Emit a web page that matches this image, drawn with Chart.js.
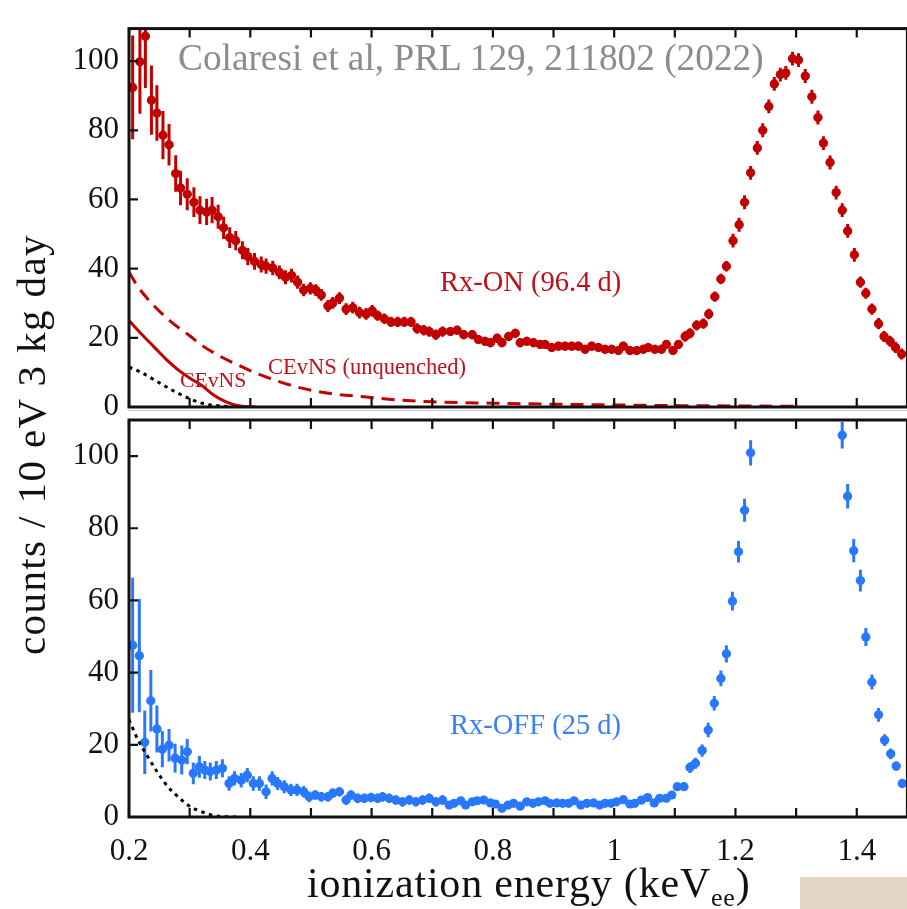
<!DOCTYPE html>
<html>
<head>
<meta charset="utf-8">
<script src="https://cdn.jsdelivr.net/npm/chart.js@4.4.1/dist/chart.umd.min.js"></script>
<style>
  html, body { margin: 0; padding: 0; background: #fff; overflow: hidden; }
  #wrap { position: relative; width: 907px; height: 909px; overflow: hidden; }
  canvas { position: absolute; left: 0; top: 0; }
  .txt { position: absolute; white-space: nowrap; line-height: 1; font-family: 'Liberation Serif', 'Times New Roman', serif; }
  .txt sub { font-size: 26px; vertical-align: -9px; line-height: 0; }
</style>
</head>
<body>
<div id="wrap">
  <canvas id="onChart" width="912" height="909"></canvas>
  <canvas id="offChart" width="912" height="909"></canvas>
  <div style="position:absolute;left:128px;top:410px;width:790px;height:1px;background:#c8c8c8"></div>
  <div class="txt" style="left:178px;top:39px;font-size:37.3px;color:#8c8c8c">Colaresi et al, PRL 129, 211802 (2022)</div>
  <div class="txt" style="left:440px;top:268px;font-size:28.5px;color:#c0101a">Rx-ON (96.4 d)</div>
  <div class="txt" style="left:268px;top:356px;font-size:22.5px;color:#c0101a">CEvNS (unquenched)</div>
  <div class="txt" style="left:180px;top:370px;font-size:21.7px;color:#c0101a">CEvNS</div>
  <div class="txt" style="left:450px;top:711px;font-size:28.5px;color:#3a7fff">Rx-OFF (25 d)</div>
  <div class="txt" style="left:11px;top:655px;font-size:41px;letter-spacing:1.4px;color:#111;transform:rotate(-90deg);transform-origin:0 0">counts / 10 eV 3 kg day</div>
  <div class="txt" style="left:307px;top:862px;font-size:42px;letter-spacing:0.8px;color:#111">ionization energy (keV<sub>ee</sub>)</div>
  <div style="position:absolute;left:800px;top:877px;width:107px;height:32px;background:#e3d5c7"></div>
</div>
<script>
// ---- axes ----
const X_MIN = 0.2;
const X_MAX = 1.4835;
const X_TICKS = [0.2, 0.3, 0.4, 0.5, 0.6, 0.7, 0.8, 0.9, 1.0, 1.1, 1.2, 1.3, 1.4];
const Y_TICKS = [0, 20, 40, 60, 80, 100];
const Y_MAX_ON = 109.4;
const Y_MAX_OFF = 110;
const X_HALF_BIN = 0.007;

// ---- reactor ON spectrum (keV, counts / 10 eV 3 kg day) ----
const RXON_E = [0.206, 0.218, 0.227, 0.237, 0.246, 0.256, 0.266, 0.277, 0.285, 0.296, 0.307, 0.317, 0.328, 0.337, 0.347, 0.356, 0.366, 0.376, 0.387, 0.396,
  0.407, 0.418, 0.426, 0.437, 0.448, 0.458, 0.468, 0.478, 0.488, 0.499, 0.508, 0.517, 0.528, 0.536, 0.547, 0.558, 0.569, 0.580, 0.591, 0.601,
  0.610, 0.621, 0.632, 0.643, 0.654, 0.665, 0.675, 0.686, 0.695, 0.706, 0.717,
  0.730, 0.741, 0.752, 0.766, 0.776, 0.787, 0.796, 0.807, 0.815, 0.826, 0.837, 0.845, 0.856, 0.867, 0.878, 0.886, 0.897, 0.908, 0.919, 0.930,
  0.941, 0.952, 0.963, 0.974, 0.985, 0.996, 1.007, 1.015, 1.026, 1.037, 1.048, 1.056, 1.067, 1.078, 1.086, 1.097, 1.106, 1.117, 1.125, 1.136,
  1.147, 1.156, 1.166, 1.176, 1.185, 1.196, 1.206, 1.215, 1.225, 1.236, 1.245, 1.255, 1.264, 1.274, 1.283, 1.294, 1.304, 1.315, 1.326, 1.336,
  1.345, 1.356, 1.366, 1.376, 1.385, 1.396, 1.406, 1.415, 1.425, 1.436, 1.445, 1.455, 1.464, 1.474];
const RXON_RATE = [92.4, 99.8, 107.2, 88.7, 85.0, 78.6, 75.8, 67.5, 63.3, 61.5, 59.2, 56.9, 56.4, 56.9, 55.0, 51.8, 49.0, 48.1, 45.3, 43.5,
  42.1, 41.2, 40.7, 40.2, 38.9, 37.5, 38.0, 36.1, 33.8, 34.3, 33.8, 32.4, 29.2, 30.1, 31.5, 28.3, 28.7, 27.3, 26.9, 27.8,
  26.4, 25.5, 24.6, 24.6, 24.6, 24.6, 22.7, 22.2, 21.8, 20.9, 21.8,
  21.8, 22.2, 20.9, 20.9, 19.5, 19.0, 18.6, 19.9, 18.6, 20.4, 21.3, 18.6, 19.0, 18.6, 18.1, 18.1, 17.2, 17.6, 17.6, 17.6,
  17.6, 16.7, 17.6, 17.2, 16.7, 16.7, 16.3, 17.6, 16.3, 16.3, 16.7, 17.2, 16.7, 16.7, 18.1, 16.3, 18.1, 20.4, 21.3, 23.6,
  24.1, 26.9, 31.9, 37.0, 40.7, 48.1, 52.7, 59.2, 67.7, 74.9, 80.0, 86.9, 93.4, 96.1, 96.6, 100.7, 100.3, 95.7, 89.7, 83.7,
  76.3, 70.7, 62.0, 56.9, 50.9, 44.0, 36.1, 32.9, 28.3, 24.1, 20.4, 19.0, 17.2, 15.3];
const RXON_ERR = [15, 15, 15, 10, 8, 7, 6, 5.3, 5, 4.6, 4.3, 4, 3.8, 3.8, 3.5, 3.2, 3, 2.8, 2.6, 2.5,
  2.4, 2.3, 2.2, 2.1, 2, 2, 2, 1.9, 1.8, 1.8, 1.7, 1.7, 1.7, 1.7, 1.7, 1.7, 1.7, 1.7, 1.7, 1.7,
  1.5, 1.5, 1.5, 1.5, 1.5, 1.5, 1.5, 1.5, 1.5, 1.5, 1.5,
  1.3, 1.3, 1.3, 1.3, 1.3, 1.3, 1.3, 1.3, 1.3, 1.3, 1.3, 1.3, 1.3, 1.3, 1.3, 1.3, 1.3, 1.3, 1.3, 1.3,
  1.3, 1.3, 1.3, 1.3, 1.3, 1.3, 1.3, 1.3, 1.3, 1.3, 1.3, 1.3, 1.3, 1.3, 1.3, 1.3, 1.3, 1.5, 1.5, 1.5,
  1.5, 1.5, 1.5, 1.5, 1.5, 2, 2, 2, 2, 2, 2, 2, 2, 2, 2, 2, 2, 2, 2, 2,
  2, 2, 2, 2, 2, 2, 1.6, 1.6, 1.6, 1.6, 1.6, 1.6, 1.6, 1.6];

// ---- reactor OFF spectrum ----
const RXOFF_E = [0.206, 0.217, 0.226, 0.236, 0.246, 0.255, 0.266, 0.276, 0.287, 0.296, 0.306, 0.316, 0.325, 0.334, 0.344, 0.354, 0.365, 0.374, 0.385, 0.395,
  0.405, 0.415, 0.426, 0.436, 0.445, 0.456, 0.467, 0.477, 0.488, 0.497, 0.507, 0.517, 0.528, 0.536, 0.547, 0.558, 0.566, 0.577, 0.588, 0.599,
  0.610, 0.618, 0.629, 0.640, 0.651, 0.662, 0.673, 0.684, 0.695, 0.706, 0.717,
  0.728, 0.736, 0.747, 0.755, 0.766, 0.774, 0.785, 0.796, 0.804, 0.815, 0.825, 0.834, 0.845, 0.856, 0.866, 0.875, 0.886, 0.894, 0.905, 0.915,
  0.925, 0.934, 0.945, 0.955, 0.966, 0.976, 0.985, 0.995, 1.004, 1.015, 1.026, 1.034, 1.045, 1.055, 1.066, 1.075, 1.086, 1.095, 1.104, 1.115,
  1.125, 1.134, 1.145, 1.155, 1.165, 1.176, 1.185, 1.195, 1.205, 1.215, 1.225,
  1.376, 1.385, 1.395, 1.406, 1.415, 1.425, 1.436, 1.446, 1.456, 1.465, 1.475];
const RXOFF_RATE = [47.6, 44.7, 20.7, 32.2, 24.4, 18.8, 19.9, 16.3, 15.8, 18.1, 12.1, 13.9, 13.0, 12.6, 13.0, 13.5, 9.3, 10.7, 10.2, 11.6,
  9.3, 9.3, 7.0, 10.7, 9.3, 8.4, 7.5, 7.5, 7.0, 5.6, 6.1, 5.6, 5.6, 6.6, 7.0, 4.7, 6.1, 5.2, 5.2, 5.4,
  5.2, 5.6, 5.2, 4.7, 4.2, 4.7, 4.2, 4.7, 5.2, 4.2, 4.7,
  3.3, 3.8, 4.5, 3.3, 4.2, 4.5, 4.7, 3.9, 3.6, 2.4, 3.3, 3.8, 3.0, 4.2, 3.8, 4.2, 4.5, 3.8, 3.9, 3.8,
  3.8, 4.5, 3.3, 3.8, 3.9, 3.3, 3.8, 3.8, 4.2, 4.8, 3.6, 3.8, 4.7, 5.4, 3.9, 5.2, 5.2, 6.1, 8.4, 8.4,
  13.7, 14.9, 18.4, 24.1, 31.5, 38.4, 45.2, 59.8, 73.5, 85.0, 100.9,
  105.8, 88.9, 73.8, 65.5, 49.9, 37.4, 28.3, 21.3, 17.5, 14.1, 9.3];
const RXOFF_ERR = [18.7, 15.7, 8.8, 8.5, 6.5, 5, 4.5, 4, 4, 3.5, 3, 3, 2.5, 2.5, 2.5, 2.5, 2, 2, 2, 2,
  2, 2, 2, 2, 1.8, 1.8, 1.7, 1.7, 1.6, 1.5, 1.3, 1.3, 1.3, 1.3, 1.3, 1.3, 1.3, 1.3, 1.3, 1.3,
  1.3, 1.3, 1.3, 1.3, 1.3, 1.3, 1.3, 1.3, 1.3, 1.3, 1.3,
  1, 1, 1, 1, 1, 1, 1, 1, 1, 1, 1, 1, 1, 1, 1, 1, 1, 1, 1, 1,
  1, 1, 1, 1, 1, 1, 1, 1, 1, 1, 1, 1, 1, 1, 1, 1, 1, 1, 1, 1,
  1.5, 1.5, 1.7, 2, 2, 2.2, 2.4, 2.6, 3, 3.2, 3.5,
  3.7, 3.4, 3.2, 3, 2.5, 2.1, 1.9, 1.6, 1.5, 1.3, 1.2];

// ---- model curves ----
const CEVNS_E = [0.2, 0.22, 0.24, 0.26, 0.28, 0.30, 0.32, 0.34, 0.36, 0.38, 0.41];
const CEVNS_RATE = [25, 21.2, 17.6, 14, 10.9, 8.4, 6.2, 3.4, 1.5, 0.4, 0];
const UNQ_E = [0.2, 0.213, 0.24, 0.267, 0.3, 0.322, 0.35, 0.38, 0.404, 0.44, 0.481, 0.536, 0.591, 0.645, 0.70, 0.8, 0.9, 1.0, 1.1, 1.2, 1.3];
const UNQ_RATE = [39, 35.2, 29.5, 25.0, 20.6, 17.6, 14.7, 12.1, 10.2, 7.8, 5.6, 3.8, 2.9, 2.0, 1.5, 1.1, 0.8, 0.6, 0.4, 0.3, 0.2];
const BKG_ON_E = [0.2, 0.218, 0.245, 0.273, 0.30, 0.322, 0.35, 0.38];
const BKG_ON_RATE = [11.5, 10.2, 7.5, 4.7, 2.4, 1.0, 0.3, 0];
const BKG_OFF_E = [0.2, 0.215, 0.231, 0.248, 0.264, 0.281, 0.297, 0.313, 0.335, 0.351, 0.38];
const BKG_OFF_RATE = [27, 21.3, 16.7, 12.1, 8.4, 5.6, 3.3, 1.9, 0.6, 0.15, 0];

const RED = '#c20000';
const BLUE = '#2878ff';
const FONT = "'Liberation Serif', 'Times New Roman', serif";

const toXY = (xs, ys) => xs.map((x, i) => ({ x, y: ys[i] }));

function spectrum(xs, ys, err, color) {
  return {
    data: toXY(xs, ys), err, showLine: false,
    pointRadius: 4.6, pointHoverRadius: 4.6, pointBorderWidth: 0,
    backgroundColor: color, borderColor: color,
  };
}

function curve(xs, ys, color, dash) {
  return {
    data: toXY(xs, ys), showLine: true, pointRadius: 0, borderWidth: 3,
    borderColor: color, borderDash: dash, cubicInterpolationMode: 'monotone', fill: false,
  };
}

// error bars, frame and inward tick marks
const framePlugin = {
  id: 'framePlugin',
  beforeDatasetsDraw(chart) {
    const { ctx, chartArea: a, scales: { x, y } } = chart;
    ctx.save();
    ctx.beginPath();
    ctx.rect(a.left, a.top, a.right - a.left, a.bottom - a.top);
    ctx.clip();
    ctx.lineWidth = 3;
    chart.data.datasets.forEach((ds) => {
      if (!ds.err) return;
      ctx.strokeStyle = ds.backgroundColor;
      ds.data.forEach((p, i) => {
        const px = x.getPixelForValue(p.x);
        const py = y.getPixelForValue(p.y);
        ctx.beginPath();
        ctx.moveTo(px, y.getPixelForValue(p.y - ds.err[i]));
        ctx.lineTo(px, y.getPixelForValue(p.y + ds.err[i]));
        ctx.moveTo(x.getPixelForValue(p.x - X_HALF_BIN), py);
        ctx.lineTo(x.getPixelForValue(p.x + X_HALF_BIN), py);
        ctx.stroke();
      });
    });
    ctx.restore();
  },
  afterDraw(chart) {
    const { ctx, chartArea: a, scales: { x, y } } = chart;
    ctx.save();
    ctx.strokeStyle = '#111';
    ctx.lineWidth = 2.2;
    ctx.beginPath();
    X_TICKS.forEach((v) => {
      const px = x.getPixelForValue(v);
      ctx.moveTo(px, a.top); ctx.lineTo(px, a.top + 9);
      ctx.moveTo(px, a.bottom); ctx.lineTo(px, a.bottom - 9);
    });
    Y_TICKS.forEach((v) => {
      const py = y.getPixelForValue(v);
      ctx.moveTo(a.left, py); ctx.lineTo(a.left + 9, py);
    });
    ctx.stroke();
    ctx.lineWidth = 3;
    ctx.strokeRect(a.left, a.top, a.right - a.left, a.bottom - a.top);
    ctx.restore();
  },
};

function panel(id, datasets, yMax, padTop, padBottom, showXLabels) {
  return new Chart(document.getElementById(id), {
    type: 'scatter',
    data: { datasets },
    options: {
      responsive: false,
      animation: false,
      devicePixelRatio: 1,
      layout: { padding: { left: 0, right: 2, top: padTop, bottom: padBottom } },
      plugins: { legend: { display: false }, tooltip: { enabled: false } },
      scales: {
        x: {
          type: 'linear', min: X_MIN, max: X_MAX,
          grid: { display: false, drawTicks: false }, border: { display: false },
          afterBuildTicks: (s) => { s.ticks = X_TICKS.map((value) => ({ value })); },
          afterFit: (s) => { s.height = showXLabels ? 92 : 0; },
          ticks: {
            display: showXLabels, autoSkip: false, maxRotation: 0, padding: 16,
            color: '#111', font: { family: FONT, size: 31 },
            callback: (v) => (Math.round(v * 10) % 2 === 0 ? String(Number(v.toFixed(1))) : ''),
          },
        },
        y: {
          type: 'linear', min: 0, max: yMax,
          grid: { display: false, drawTicks: false }, border: { display: false },
          afterBuildTicks: (s) => { s.ticks = Y_TICKS.map((value) => ({ value })); },
          afterFit: (s) => { s.width = 129; },
          ticks: { padding: 10, color: '#111', font: { family: FONT, size: 31 } },
        },
      },
    },
    plugins: [framePlugin],
  });
}

panel('onChart', [
  curve(UNQ_E, UNQ_RATE, RED, [13, 8]),
  curve(CEVNS_E, CEVNS_RATE, RED, []),
  curve(BKG_ON_E, BKG_ON_RATE, '#000', [3.5, 4.5]),
  spectrum(RXON_E, RXON_RATE, RXON_ERR, RED),
], Y_MAX_ON, 12, 502, false);

panel('offChart', [
  curve(BKG_OFF_E, BKG_OFF_RATE, '#000', [3.5, 4.5]),
  spectrum(RXOFF_E, RXOFF_RATE, RXOFF_ERR, BLUE),
], Y_MAX_OFF, 420, 0, true);
</script>
</body>
</html>
